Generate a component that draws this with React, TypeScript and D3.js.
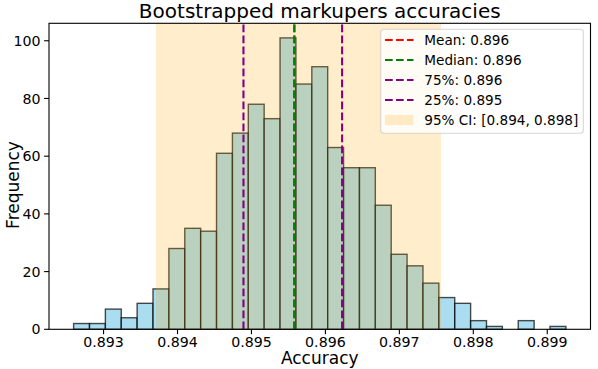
import React from "react";
import * as d3 from "d3";

// ---- data ----
const counts: number[] = [2, 2, 7, 4, 9, 14, 28, 35, 34, 61, 68, 78, 73, 101, 85, 91, 63, 56, 56, 43, 26, 22, 16, 11, 9, 3, 1, 0, 3, 0, 1];
const binStart = 0.892595;
const binEnd = 0.899252;
const meanValue = 0.89558;
const medianValue = 0.89558;
const q75Value = 0.896226;
const q25Value = 0.894892;
const ciLow = 0.893708;
const ciHigh = 0.897564;
const xTicks: number[] = [0.893, 0.894, 0.895, 0.896, 0.897, 0.898, 0.899];
const yTicks: number[] = [0, 20, 40, 60, 80, 100];
const legendLabels: string[] = ["Mean: 0.896", "Median: 0.896", "75%: 0.896", "25%: 0.895", "95% CI: [0.894, 0.898]"];
const titleText = "Bootstrapped markupers accuracies";
const xLabel = "Accuracy";
const yLabel = "Frequency";

// ---- layout ----
const W = 598;
const H = 369;
const L = 49;
const R = 590.5;
const T = 23.3;
const B = 329.3;
const FONT = "'DejaVu Sans', sans-serif";
const DASH = "7.7 3.3";

export default function App() {
  const pad = 0.05 * (binEnd - binStart);
  const x = d3.scaleLinear().domain([binStart - pad, binEnd + pad]).range([L, R]);
  const yMax = (d3.max(counts) as number) * 1.05;
  const y = d3.scaleLinear().domain([0, yMax]).range([B, T]);
  const bw = (binEnd - binStart) / counts.length;
  const bins = counts.map((c, i) => ({ x0: binStart + i * bw, x1: binStart + (i + 1) * bw, c }));

  const vlines = [
    { v: meanValue, color: "red" },
    { v: medianValue, color: "green" },
    { v: q75Value, color: "purple" },
    { v: q25Value, color: "purple" },
  ];

  const legX = 380.7;
  const legY = 29.3;
  const legW = 202.6;
  const legH = 104;
  const rowY0 = 40;
  const rowStep = 20;

  return (
    <svg width={W} height={H} style={{ position: "fixed", left: 0, top: 0, background: "white" }} fontFamily={FONT}>
      <rect x={0} y={0} width={W} height={H} fill="white" />
      {bins.map((b, i) => (
        <rect
          key={i}
          x={x(b.x0)}
          y={y(b.c)}
          width={x(b.x1) - x(b.x0)}
          height={B - y(b.c)}
          fill="#87CEEB"
          fillOpacity={0.7}
          stroke="black"
          strokeOpacity={0.7}
          strokeWidth={1.4}
        />
      ))}
      <rect x={x(ciLow)} y={T} width={x(ciHigh) - x(ciLow)} height={B - T} fill="orange" fillOpacity={0.2} />
      {vlines.map((l, i) => (
        <line key={i} x1={x(l.v)} x2={x(l.v)} y1={B} y2={T} stroke={l.color} strokeWidth={2.1} strokeDasharray={DASH} />
      ))}
      {/* spines */}
      <rect x={L} y={T} width={R - L} height={B - T} fill="none" stroke="black" strokeWidth={1.1} />
      {/* x ticks */}
      {xTicks.map((t, i) => (
        <g key={i}>
          <line x1={x(t)} x2={x(t)} y1={B} y2={B + 4.9} stroke="black" strokeWidth={1.1} />
          <text x={x(t)} y={346.6} fontSize={14.2} textAnchor="middle" fill="black">
            {d3.format(".3f")(t)}
          </text>
        </g>
      ))}
      {/* y ticks */}
      {yTicks.map((t, i) => (
        <g key={i}>
          <line x1={L - 4.9} x2={L} y1={y(t)} y2={y(t)} stroke="black" strokeWidth={1.1} />
          <text x={L - 8.5} y={y(t) + 5.1} fontSize={14.2} textAnchor="end" fill="black">
            {t}
          </text>
        </g>
      ))}
      <text x={(L + R) / 2} y={363.5} fontSize={17} textAnchor="middle" fill="black">
        {xLabel}
      </text>
      <text transform={`translate(18.5, 185) rotate(-90)`} fontSize={17} textAnchor="middle" fill="black">
        {yLabel}
      </text>
      <text x={(L + R) / 2} y={17.5} fontSize={20} textAnchor="middle" fill="black">
        {titleText}
      </text>
      {/* legend */}
      <rect x={legX} y={legY} width={legW} height={legH} rx={3} fill="white" fillOpacity={0.8} stroke="#cccccc" strokeOpacity={0.8} strokeWidth={1.1} />
      {legendLabels.map((lab, i) => {
        const cy = rowY0 + i * rowStep;
        return (
          <g key={i}>
            {i < 4 ? (
              <line x1={385} x2={413.5} y1={cy} y2={cy} stroke={vlines[i].color} strokeWidth={2.1} strokeDasharray={DASH} />
            ) : (
              <rect x={385} y={cy - 5} width={28.5} height={10} fill="orange" fillOpacity={0.2} />
            )}
            <text x={424.3} y={cy + 4.9} fontSize={13.6} fill="black">
              {lab}
            </text>
          </g>
        );
      })}
    </svg>
  );
}
